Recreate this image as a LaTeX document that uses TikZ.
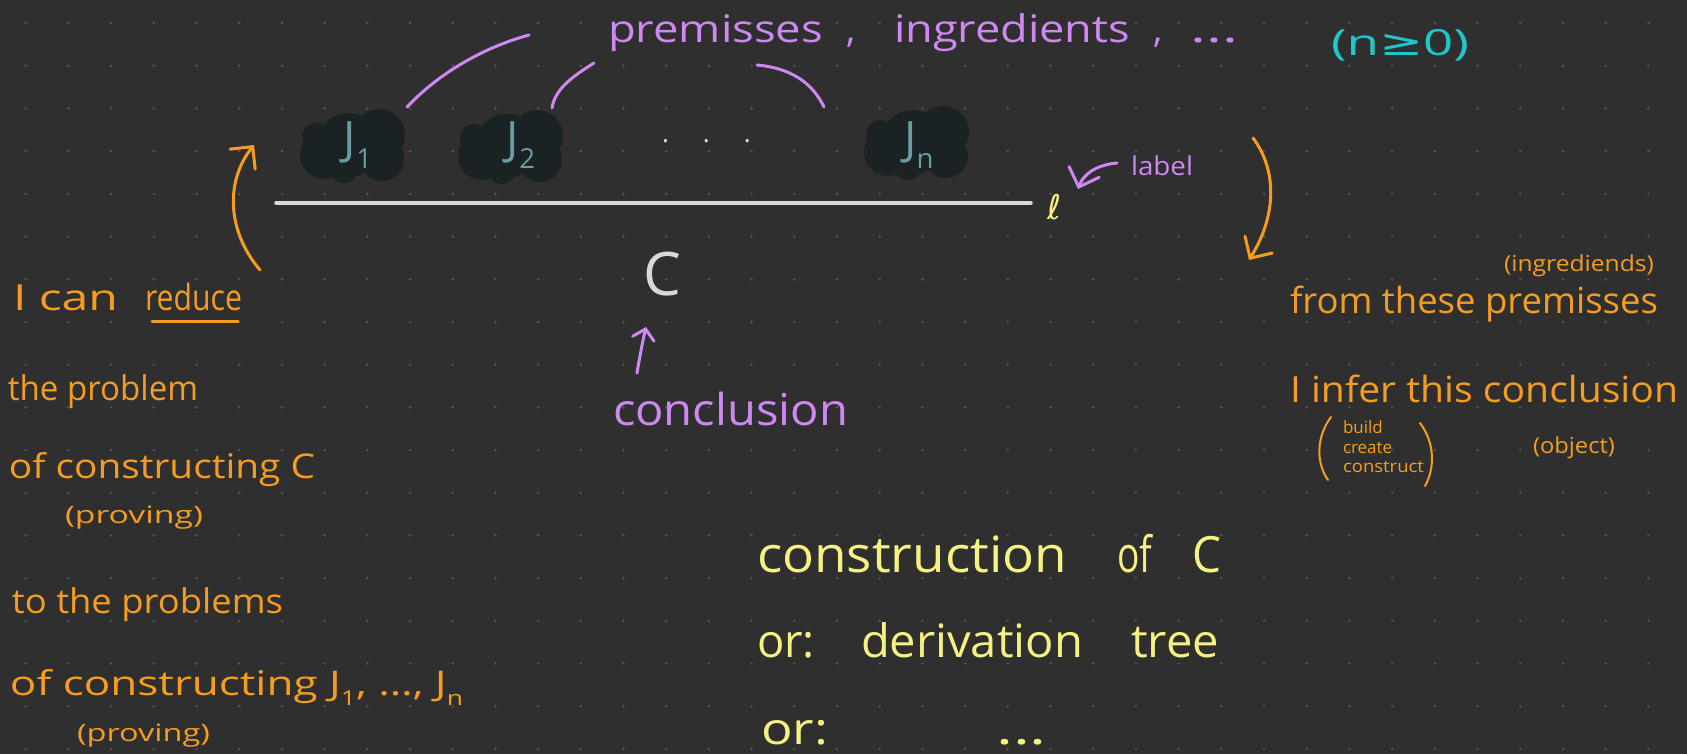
\documentclass[tikz,border=0pt]{standalone}
\usepackage{fontspec}
\setmainfont{Open Sans}
\newfontfamily\dejavu{DejaVu Sans}
\usepackage{graphicx}
\usetikzlibrary{arrows.meta}
\definecolor{bgc}{HTML}{2F2F2F}
\definecolor{dotc}{HTML}{555555}
\definecolor{purp}{HTML}{CF87F2}
\definecolor{cyanc}{HTML}{1EC8C8}
\definecolor{orng}{HTML}{F59D20}
\definecolor{yell}{HTML}{F6F182}
\definecolor{greyw}{HTML}{D9D9D9}
\definecolor{jcol}{HTML}{6A9CA4}
\definecolor{blobc}{HTML}{1A2224}
\newcommand\fsz[1]{\fontsize{#1}{#1}\selectfont}
\newcommand\fw[3]{\resizebox{#1pt}{\height}{\fsz{#2}#3}}
\newcommand\lsub[1]{\raisebox{-0.3em}{\scalebox{0.6}{#1}}}
\tikzset{
  txt/.style={inner sep=0pt, outer sep=0pt, anchor=base west},
  ptxt/.style={txt, text=purp},
  otxt/.style={txt, text=orng},
  ytxt/.style={txt, text=yell},
  hand/.style={line width=3pt, line cap=round},
  headarrow/.style={-{Straight Barb[length=16pt,width=32pt,line cap=round]}},
  pics/blob/.style={code={
    \fill[blobc] (-30,10) circle[radius=24pt] (-5,0) circle[radius=32pt]
      (25,-10) circle[radius=26pt] (28,14) circle[radius=22pt]
      (-38,-8) circle[radius=14pt] (-10,24) circle[radius=14pt];
  }}
}
\begin{document}
\begin{tikzpicture}[x=1pt,y=-1pt]
\useasboundingbox (0,0) rectangle (1687,754);
\fill[bgc] (0,0) rectangle (1687,754);
% dot grid
\foreach \i in {0,...,38}{
  \foreach \j in {0,...,17}{
    \fill[dotc] (25.7+42.7*\i, 23.1+42.7*\j) circle[radius=1.4pt];
  }
}
% blobs and premises
\pic at (354,145) {blob};
\pic at (512,146) {blob};
\pic at (918,142) {blob};
\node[inner sep=0pt, text=jcol] (j1) at (358,145) {\fsz{46}J\lsub{1}};
\node[inner sep=0pt, text=jcol] (j2) at (521,145) {\fsz{46}J\lsub{2}};
\node[inner sep=0pt, text=jcol] (jn) at (919,145) {\fsz{46}J\lsub{n}};
\node[txt, text=greyw] (jdots) at (662,143) {\fsz{26}.\hspace{34pt}.\hspace{34pt}.};
% inference line
\coordinate (ls) at (276,203);
\coordinate (le) at (1031,203);
\draw[greyw, line width=3.5pt, line cap=round] (ls) -- (le);
\node[inner sep=0pt, text=yell] (ell) at (1055,207) {\fsz{34}\dejavu ℓ};
% conclusion C
\node[inner sep=0pt, text=greyw] (cc) at (662,274) {\fsz{60}C};
% purple top labels
\node[ptxt] (prem) at (608,43) {\fw{215}{38}{premisses}};
\node[ptxt] (c1) at (846,43) {\fsz{38},};
\node[ptxt] (ingr) at (894,43) {\fw{236}{38}{ingredients}};
\node[ptxt] (c2) at (1153,43) {\fsz{38},};
\node[ptxt] (pdots) at (1190,43) {\fw{48}{38}{...}};
\node[txt, text=cyanc] (ncond) at (1331,56) {\fw{138}{36}{(n{\dejavu ≥}0)}};
% braces-like curves
\coordinate (a1s) at (407,107); \coordinate (a1e) at (529,35);
\coordinate (a2s) at (552,108); \coordinate (a2e) at (594,63);
\coordinate (a3s) at (757,65);  \coordinate (a3e) at (824,107);
\draw[purp, hand] (a1s) .. controls (440,72) and (485,47) .. (a1e);
\draw[purp, hand] (a2s) .. controls (555,88) and (575,75) .. (a2e);
\draw[purp, hand] (a3s) .. controls (790,68) and (812,82) .. (a3e);
% label
\node[ptxt] (lab) at (1131,176) {\fw{62}{26}{label}};
\coordinate (lbs) at (1117,163);
\draw[purp, hand, headarrow] (lbs) .. controls (1095,165) and (1083,175) .. (1078,189);
% conclusion label
\node[ptxt] (concl) at (613,425) {\fw{235}{44}{conclusion}};
\coordinate (cas) at (637,373);
\draw[purp, hand, -{Straight Barb[length=10pt,width=22pt,line cap=round]}] (cas) .. controls (640,355) and (643,340) .. (646,327);
% orange arrows
\coordinate (las) at (260,270); \coordinate (lae) at (254,145);
\draw[orng, hand, headarrow] (las) .. controls (226,230) and (226,180) .. (lae);
\coordinate (ras) at (1253,138); \coordinate (rae) at (1249,260);
\draw[orng, hand, headarrow] (ras) .. controls (1277,170) and (1277,215) .. (rae);
% left orange text
\node[otxt] (ican) at (13,310) {\fw{105}{36}{I can}};
\node[otxt] (reduce) at (145,310) {\fw{97}{36}{reduce}};
\draw[orng, line width=3pt, line cap=round] (152,321) -- (238,321);
\node[otxt] (prob) at (8,400) {\fw{190}{34}{the problem}};
\node[otxt] (cons1) at (9,478) {\fw{306}{34}{of constructing C}};
\node[otxt] (prov1) at (65,523) {\fw{138}{24}{(proving)}};
\node[otxt] (probs) at (12,613) {\fw{271}{34}{to the problems}};
\node[otxt] (cons2) at (10,695) {\fw{453}{34}{of constructing J\lsub{1}, \dots, J\lsub{n}}};
\node[otxt] (prov2) at (77,741) {\fw{133}{24}{(proving)}};
% right orange text
\node[otxt] (ingd) at (1504,272) {\fw{150}{22}{(ingrediends)}};
\node[otxt] (from) at (1290,313) {\fw{368}{36}{from these premisses}};
\node[otxt] (infer) at (1290,402) {\fw{388}{36}{I infer this conclusion}};
\node[otxt] (b1) at (1343,433) {\fsz{17}build};
\node[otxt] (b2) at (1343,453) {\fsz{17}create};
\node[otxt] (b3) at (1343,472) {\fw{81}{17}{construct}};
\draw[orng, line width=2pt, line cap=round] (1331,417) .. controls (1316,437) and (1316,463) .. (1328,480);
\draw[orng, line width=2pt, line cap=round] (1420,423) .. controls (1435,443) and (1435,468) .. (1425,486);
\node[otxt] (obj) at (1533,453) {\fw{82}{22}{(object)}};
% yellow text
\node[ytxt] (constr) at (757,572) {\fw{310}{50}{construction}};
\node[ytxt] (of) at (1117,572) {\fw{35}{50}{of}};
\node[ytxt] (cy) at (1192,572) {\fw{29}{50}{C}};
\node[ytxt] (or1) at (757,657) {\fw{58}{46}{or:}};
\node[ytxt] (deriv) at (861,657) {\fw{222}{46}{derivation}};
\node[ytxt] (tree) at (1131,657) {\fw{88}{46}{tree}};
\node[ytxt] (or2) at (761,744) {\fw{67}{44}{or:}};
\node[ytxt] (ydots) at (996,744) {\fw{51}{44}{...}};
\end{tikzpicture}
\end{document}
